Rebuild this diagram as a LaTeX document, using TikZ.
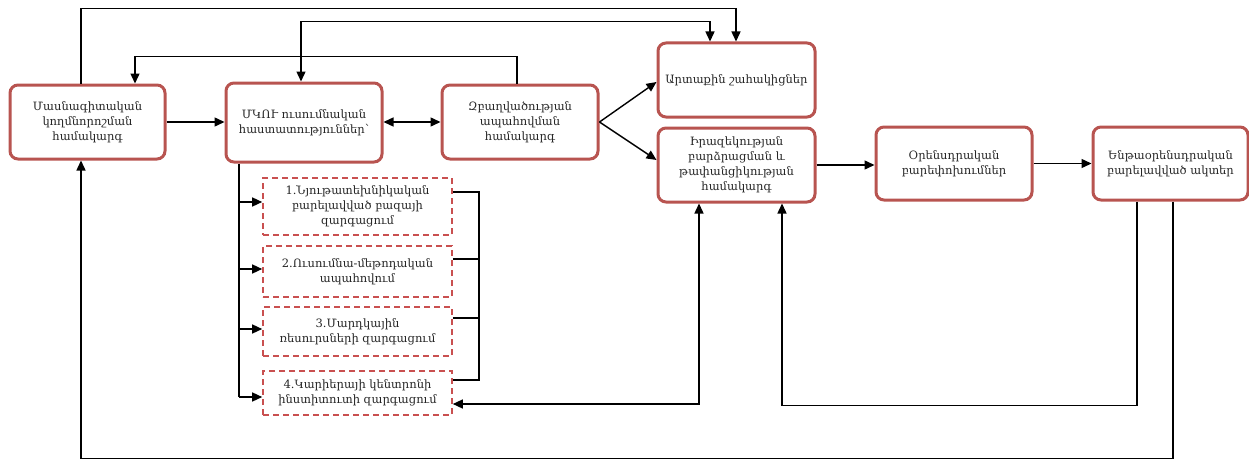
\documentclass[tikz,border=0pt]{standalone}
\usepackage{fontspec}
\setmainfont{DejaVu Serif}
\usetikzlibrary{arrows.meta,calc}
\definecolor{boxred}{HTML}{B85450}
\definecolor{dashred}{HTML}{C95050}
\begin{document}
\begin{tikzpicture}[x=1pt,y=-1pt,
  >={Triangle[length=10pt,width=9pt]},
  txt/.style={align=center, inner sep=0pt, text=black!85, font=\fontsize{11.5}{15}\selectfont},
  mainbox/.style={txt, draw=boxred, line width=3pt, rounded corners=8pt, fill=white},
  dbox/.style={txt, draw=dashred, line width=1.6pt, dash pattern=on 6pt off 4pt, fill=white},
  ln/.style={line width=1.4pt, black}]
\useasboundingbox (0,0) rectangle (1249,460);

% main boxes
\node[mainbox, minimum width=155pt, minimum height=74pt] (A) at (87.5,122) {Մասնագիտական\\կողմնորոշման\\համակարգ};
\node[mainbox, minimum width=156pt, minimum height=79pt] (B) at (304,122.5) {ՄԿՈՒ ուսումնական\\հաստատություններ՝};
\node[mainbox, minimum width=156pt, minimum height=74pt] (C) at (520,122) {Զբաղվածության\\ապահովման\\համակարգ};
\node[mainbox, minimum width=157pt, minimum height=74pt] (D) at (736.5,80) {Արտաքին շահակիցներ};
\node[mainbox, minimum width=157pt, minimum height=74pt] (E) at (736.5,165) {Իրազեկության\\բարձրացման և\\թափանցիկության\\համակարգ};
\node[mainbox, minimum width=156pt, minimum height=73pt] (F) at (954,163.5) {Օրենսդրական\\բարեփոխումներ};
\node[mainbox, minimum width=155pt, minimum height=73pt] (G) at (1170.5,163.5) {Ենթաօրենսդրական\\բարելավված ակտեր};

% dashed boxes
\node[dbox, minimum width=189pt, minimum height=57pt] (d1) at (357.5,206.5) {1.Նյութատեխնիկական\\բարելավված բազայի\\զարգացում};
\node[dbox, minimum width=189pt, minimum height=51pt] (d2) at (357.5,271.5) {2.Ուսումնա-մեթոդական\\ապահովում};
\node[dbox, minimum width=189pt, minimum height=49pt] (d3) at (357.5,331.5) {3.Մարդկային\\ռեսուրսների զարգացում};
\node[dbox, minimum width=189pt, minimum height=44pt] (d4) at (357.5,393) {4.Կարիերայի կենտրոնի\\ինստիտուտի զարգացում};

% horizontal connectors
\draw[ln,->] (A.east) -- (A.east -| B.west);
\draw[ln,<->] (C.west -| B.east) -- (C.west);
\draw[ln,->] (C.east) -- ($(D.west)+(0,2)$);
\draw[ln,->] (C.east) -- ($(E.west)+(0,-5)$);
\draw[ln,->] (E.east) -- (E.east -| F.west);
\draw[ln,->] (F.east) -- (G.west);

% trunk from B to dashed boxes
\coordinate (trunkend) at (239,397);
\coordinate (in1) at ($(d1.west)+(0,-4.5)$);
\coordinate (in2) at ($(d2.west)+(0,-2.5)$);
\coordinate (in3) at ($(d3.west)+(0,-2.5)$);
\draw[ln] (B.south -| trunkend) -- (trunkend);
\draw[ln,->] (in1 -| trunkend) -- (in1);
\draw[ln,->] (in2 -| trunkend) -- (in2);
\draw[ln,->] (in3 -| trunkend) -- (in3);
\draw[ln,->] (trunkend) -- (trunkend -| d4.west);

% bracket on right of dashed boxes
\coordinate (br) at (479,0);
\coordinate (out1) at ($(d1.east)+(0,-14.5)$);
\coordinate (out2) at ($(d2.east)+(0,-12.5)$);
\coordinate (out3) at ($(d3.east)+(0,-13.5)$);
\coordinate (out4) at ($(d4.east)+(0,-13)$);
\draw[ln] (out1) -| (out4 -| br) -- (out4);
\draw[ln] (out2) -- (out2 -| br);
\draw[ln] (out3) -- (out3 -| br);

% E <-> d4
\coordinate (in4) at ($(d4.east)+(0,11)$);
\draw[ln,<->] ($(E.south)+(-37.5,0)$) |- (in4);

% top connectors
\draw[ln,->] ($(A.north)+(-6.5,0)$) -- ++(0,-75) -| ($(D.north)+(-0.5,0)$);
\draw[ln,<->] ($(B.north)+(-3,0)$) -- ++(0,-60) -| ($(D.north)+(-26.5,0)$);
\draw[ln,->] ($(C.north)+(-3,0)$) -- ++(0,-27) -| ($(A.north)+(47.5,0)$);

% bottom connectors
\draw[ln,->] ($(G.south)+(-33.5,0)$) -- ++(0,204) -| ($(E.south)+(45.5,0)$);
\draw[ln,->] ($(G.south)+(2.5,0)$) -- ++(0,257) -| ($(A.south)+(-6.5,0)$);
\end{tikzpicture}
\end{document}
